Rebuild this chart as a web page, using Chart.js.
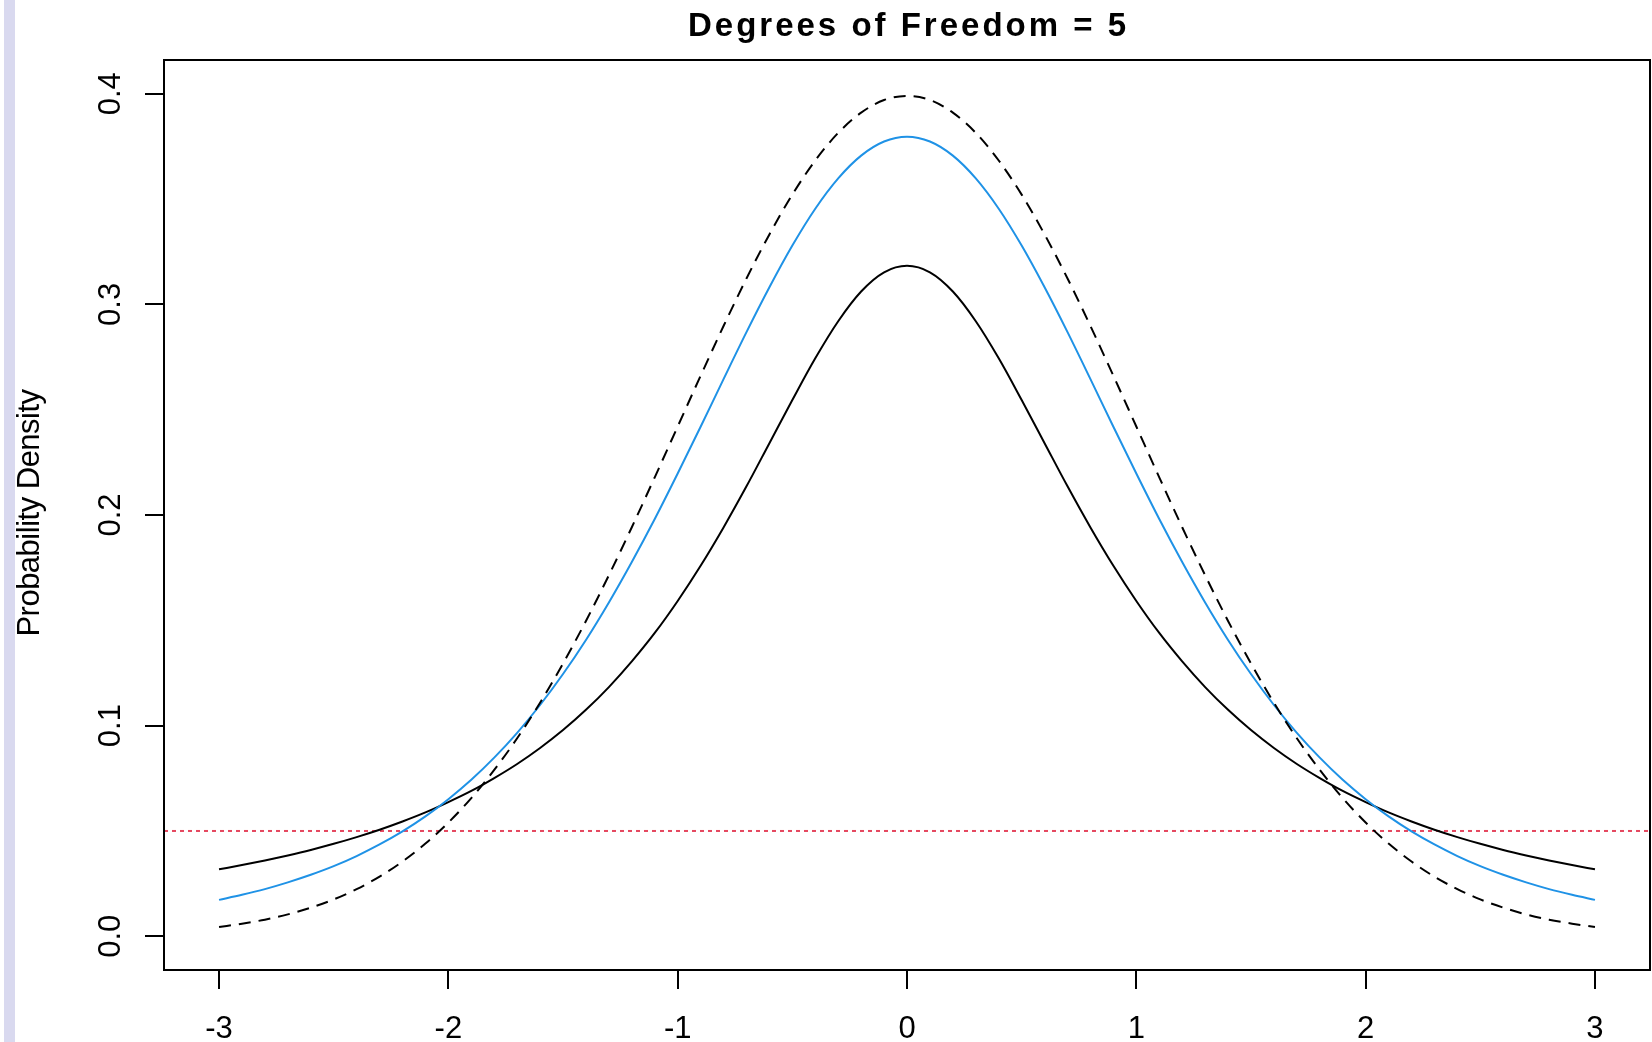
<!DOCTYPE html>
<html>
<head>
<meta charset="utf-8">
<script src="https://cdn.jsdelivr.net/npm/chart.js@4.4.0/dist/chart.umd.min.js"></script>
<style>
    html, body { margin: 0; padding: 0; background: #fff; }
    #wrap { position: relative; width: 1652px; height: 1042px; overflow: hidden; }
    #strip { position: absolute; left: 4px; top: 0; width: 11px; height: 1042px; background: #d9d9ef; }
    canvas { position: absolute; left: 0; top: 0; }
</style>
</head>
<body>
<div id="wrap">
    <div id="strip"></div>
    <canvas id="chart" width="1652" height="1042"></canvas>
</div>
<script>
// values, every 0.1 along x
const xValues = [-3.0, -2.9, -2.8, -2.7, -2.6, -2.5, -2.4, -2.3, -2.2, -2.1, -2.0, -1.9, -1.8, -1.7, -1.6, -1.5,
                 -1.4, -1.3, -1.2, -1.1, -1.0, -0.9, -0.8, -0.7, -0.6, -0.5, -0.4, -0.3, -0.2, -0.1, 0,
                 0.1, 0.2, 0.3, 0.4, 0.5, 0.6, 0.7, 0.8, 0.9, 1.0, 1.1, 1.2, 1.3, 1.4, 1.5,
                 1.6, 1.7, 1.8, 1.9, 2.0, 2.1, 2.2, 2.3, 2.4, 2.5, 2.6, 2.7, 2.8, 2.9, 3.0];
const cauchyDensity = [0.0318, 0.0338, 0.0360, 0.0384, 0.0410, 0.0439, 0.0471, 0.0506, 0.0545, 0.0588, 0.0637,
                       0.0690, 0.0751, 0.0818, 0.0894, 0.0979, 0.1075, 0.1183, 0.1305, 0.1440, 0.1592,
                       0.1759, 0.1941, 0.2136, 0.2341, 0.2546, 0.2744, 0.2920, 0.3061, 0.3152, 0.3183,
                       0.3152, 0.3061, 0.2920, 0.2744, 0.2546, 0.2341, 0.2136, 0.1941, 0.1759, 0.1592,
                       0.1440, 0.1305, 0.1183, 0.1075, 0.0979, 0.0894, 0.0818, 0.0751, 0.0690, 0.0637,
                       0.0588, 0.0545, 0.0506, 0.0471, 0.0439, 0.0410, 0.0384, 0.0360, 0.0338, 0.0318];
const tFiveDensity = [0.0173, 0.0197, 0.0224, 0.0256, 0.0292, 0.0333, 0.0381, 0.0436, 0.0498, 0.0569, 0.0651,
                      0.0743, 0.0848, 0.0966, 0.1098, 0.1245, 0.1407, 0.1585, 0.1777, 0.1981, 0.2197,
                      0.2419, 0.2645, 0.2868, 0.3081, 0.3279, 0.3454, 0.3598, 0.3706, 0.3773, 0.3796,
                      0.3773, 0.3706, 0.3598, 0.3454, 0.3279, 0.3081, 0.2868, 0.2645, 0.2419, 0.2197,
                      0.1981, 0.1777, 0.1585, 0.1407, 0.1245, 0.1098, 0.0966, 0.0848, 0.0743, 0.0651,
                      0.0569, 0.0498, 0.0436, 0.0381, 0.0333, 0.0292, 0.0256, 0.0224, 0.0197, 0.0173];
const normalDensity = [0.0044, 0.0060, 0.0079, 0.0104, 0.0136, 0.0175, 0.0224, 0.0283, 0.0355, 0.0440, 0.0540,
                       0.0656, 0.0790, 0.0940, 0.1109, 0.1295, 0.1497, 0.1714, 0.1942, 0.2179, 0.2420,
                       0.2661, 0.2897, 0.3123, 0.3332, 0.3521, 0.3683, 0.3814, 0.3910, 0.3970, 0.3989,
                       0.3970, 0.3910, 0.3814, 0.3683, 0.3521, 0.3332, 0.3123, 0.2897, 0.2661, 0.2420,
                       0.2179, 0.1942, 0.1714, 0.1497, 0.1295, 0.1109, 0.0940, 0.0790, 0.0656, 0.0540,
                       0.0440, 0.0355, 0.0283, 0.0224, 0.0175, 0.0136, 0.0104, 0.0079, 0.0060, 0.0044];
const cutoffLevel = 0.05;

const xRange = [-3.24, 3.24];
const yRange = [-0.016, 0.416];
const xTicks = [-3, -2, -1, 0, 1, 2, 3];
const yTicks = [0, 0.1, 0.2, 0.3, 0.4];
const yTickLabels = ['0.0', '0.1', '0.2', '0.3', '0.4'];

const titleText = 'Degrees of Freedom = 5';
const yAxisTitle = 'Probability Density';

const toPoints = (ys) => xValues.map((x, i) => ({ x: x, y: ys[i] }));

const axisStyle = {
    grid: { display: true, drawOnChartArea: false, drawTicks: true, tickLength: 19, color: '#000', lineWidth: 2 },
    border: { display: true, color: '#000', width: 2 },
    ticks: { display: false }
};

// frame, tick labels and titles, R-style
const framePlugin = {
    id: 'frame',
    afterDraw(chart) {
        const ctx = chart.ctx;
        const area = chart.chartArea;
        const xs = chart.scales.x;
        const ys = chart.scales.y;
        ctx.save();
        ctx.strokeStyle = '#000';
        ctx.lineWidth = 2;
        ctx.strokeRect(area.left, area.top, area.right - area.left, area.bottom - area.top);

        ctx.fillStyle = '#000';
        ctx.font = '31px "Liberation Sans", Arial, sans-serif';
        ctx.textAlign = 'center';
        ctx.textBaseline = 'alphabetic';
        xTicks.forEach(v => {
            ctx.fillText(String(v), xs.getPixelForValue(v), 1038);
        });

        yTicks.forEach((v, i) => {
            ctx.save();
            ctx.translate(120, ys.getPixelForValue(v));
            ctx.rotate(-Math.PI / 2);
            ctx.fillText(yTickLabels[i], 0, 0);
            ctx.restore();
        });

        ctx.save();
        ctx.font = '31px "Liberation Sans", Arial, sans-serif';
        ctx.letterSpacing = '-0.5px';
        ctx.translate(39, (area.top + area.bottom) / 2 - 2);
        ctx.rotate(-Math.PI / 2);
        ctx.fillText(yAxisTitle, 0, 0);
        ctx.restore();

        ctx.font = 'bold 33px "Liberation Sans", Arial, sans-serif';
        ctx.letterSpacing = '3px';
        ctx.fillText(titleText, (area.left + area.right) / 2 + 1.5, 36);
        ctx.restore();
    }
};

new Chart(document.getElementById('chart'), {
    type: 'line',
    data: {
        datasets: [
            {
                label: 'Normal',
                data: toPoints(normalDensity),
                borderColor: '#000',
                borderWidth: 2,
                borderDash: [12, 8],
                pointRadius: 0,
                cubicInterpolationMode: 'monotone'
            },
            {
                label: 't, df = 5',
                data: toPoints(tFiveDensity),
                borderColor: '#1f92e6',
                borderWidth: 2,
                pointRadius: 0,
                cubicInterpolationMode: 'monotone'
            },
            {
                label: 't, df = 1',
                data: toPoints(cauchyDensity),
                borderColor: '#000',
                borderWidth: 2,
                pointRadius: 0,
                cubicInterpolationMode: 'monotone'
            },
            {
                label: 'cutoff',
                data: [{ x: xRange[0], y: cutoffLevel }, { x: xRange[1], y: cutoffLevel }],
                borderColor: '#e5475f',
                borderWidth: 2,
                borderDash: [4, 4],
                pointRadius: 0
            }
        ]
    },
    options: {
        responsive: false,
        animation: false,
        devicePixelRatio: 1,
        layout: { padding: { left: 145, top: 60, right: 2, bottom: 53 } },
        plugins: { legend: { display: false }, tooltip: { enabled: false } },
        scales: {
            x: Object.assign({
                type: 'linear',
                min: xRange[0],
                max: xRange[1],
                afterBuildTicks: s => { s.ticks = xTicks.map(v => ({ value: v })); }
            }, axisStyle),
            y: Object.assign({
                type: 'linear',
                min: yRange[0],
                max: yRange[1],
                afterBuildTicks: s => { s.ticks = yTicks.map(v => ({ value: v })); }
            }, axisStyle)
        }
    },
    plugins: [framePlugin]
});
</script>
</body>
</html>
